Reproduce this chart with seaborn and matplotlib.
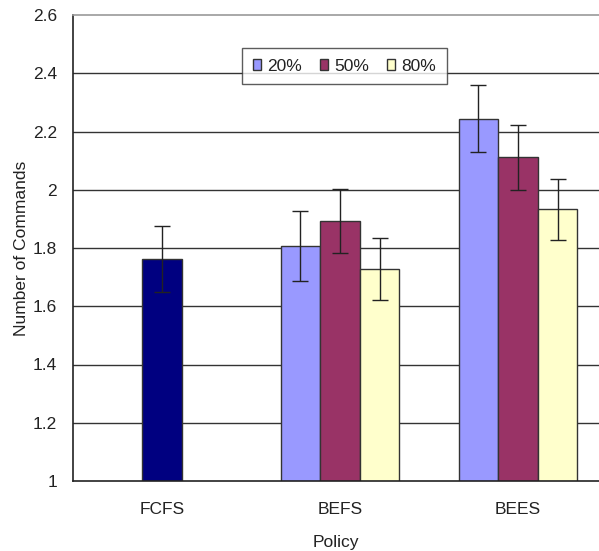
import numpy as np
import pandas as pd
import matplotlib
matplotlib.use('Agg')
import matplotlib.pyplot as plt
import seaborn as sns

# ─── Data ──────────────────────────────────────────────────────────────────────
POLICIES   = ['FCFS', 'BEFS', 'BEES']
LEVELS     = ['20%', '50%', '80%']
FCFS_MEAN  = [1.762]
FCFS_ERR   = [0.112]
BEFS_MEAN  = [1.807, 1.894, 1.727]
BEFS_ERR   = [0.120, 0.110, 0.106]
BEES_MEAN  = [2.244, 2.111, 1.933]
BEES_ERR   = [0.115, 0.112, 0.104]

COLORS     = {'20%': '#9999FF', '50%': '#993366', '80%': '#FFFFCC'}
FCFS_COLOR = '#000080'
BAR_W      = 0.222
FS         = 12.5
TXT        = '#222222'

sns.set_style('white')
plt.rcParams['font.family'] = ['Liberation Sans', 'DejaVu Sans']

grouped = pd.DataFrame({
    'policy': ['BEFS'] * 3 + ['BEES'] * 3,
    'level': LEVELS * 2,
    'value': BEFS_MEAN + BEES_MEAN,
    'err': BEFS_ERR + BEES_ERR,
})
single = pd.DataFrame({'policy': ['FCFS'], 'value': FCFS_MEAN, 'err': FCFS_ERR})

fig = plt.figure(figsize=(5.99, 5.51), dpi=100)
ax = fig.add_axes([73 / 599, 1 - 481 / 551, 1 - 73 / 599, (481 - 15) / 551])

# grid first so bars sit on top
for v in np.arange(1.2, 2.5, 0.2):
    ax.axhline(v, color='#333333', lw=1.0, zorder=0)

sns.barplot(data=single, x='policy', y='value', order=POLICIES,
            color=FCFS_COLOR, width=BAR_W, errorbar=None,
            edgecolor='#333333', linewidth=1.0, saturation=1, ax=ax, zorder=2)
sns.barplot(data=grouped, x='policy', y='value', hue='level', order=POLICIES,
            hue_order=LEVELS, palette=COLORS, width=BAR_W * 3, errorbar=None,
            edgecolor='#333333', linewidth=1.0, saturation=1, ax=ax, zorder=2)

# error bars on the categorical positions
ax.errorbar([0], single['value'], yerr=single['err'], fmt='none',
            ecolor=TXT, elinewidth=1.0, capsize=5.5, capthick=1.0, zorder=3)
offsets = {'20%': -BAR_W, '50%': 0.0, '80%': BAR_W}
xs = [POLICIES.index(p) + offsets[l] for p, l in zip(grouped['policy'], grouped['level'])]
ax.errorbar(xs, grouped['value'], yerr=grouped['err'], fmt='none',
            ecolor=TXT, elinewidth=1.0, capsize=5.5, capthick=1.0, zorder=3)

ax.set_ylim(1, 2.6)
ax.set_xlim(-0.5, 2.455)
ax.set_yticks(np.arange(1, 2.61, 0.2))
ax.set_yticklabels(['%g' % round(t, 1) for t in np.arange(1, 2.61, 0.2)])
ax.tick_params(axis='y', direction='out', length=4.5, width=1, color=TXT,
               labelsize=FS, labelcolor=TXT, pad=7)
ax.tick_params(axis='x', length=0, labelsize=FS, labelcolor=TXT, pad=15)
ax.set_xticks([0.5, 1.5], minor=True)
ax.tick_params(axis='x', which='minor', direction='in', length=4, width=1,
               color='#333333')

ax.set_xlabel('Policy', fontsize=FS, color=TXT, labelpad=13)
ax.set_ylabel('Number of Commands', fontsize=FS, color=TXT, labelpad=3)

for s in ['left', 'bottom']:
    ax.spines[s].set_color(TXT)
    ax.spines[s].set_linewidth(1.2)
ax.spines['top'].set_color('#999999')
ax.spines['top'].set_linewidth(1.2)
ax.spines['right'].set_visible(False)

leg = ax.legend(loc='upper center', bbox_to_anchor=(0.516, 0.929),
                ncol=3, frameon=True, fancybox=False, fontsize=FS,
                handlelength=0.5, handleheight=0.6, handletextpad=0.35,
                columnspacing=1.0, borderpad=0.6, borderaxespad=0,
                edgecolor='#333333')
leg.get_frame().set_linewidth(1.0)
for t in leg.get_texts():
    t.set_color(TXT)

fig.savefig('out.png', dpi=100)
